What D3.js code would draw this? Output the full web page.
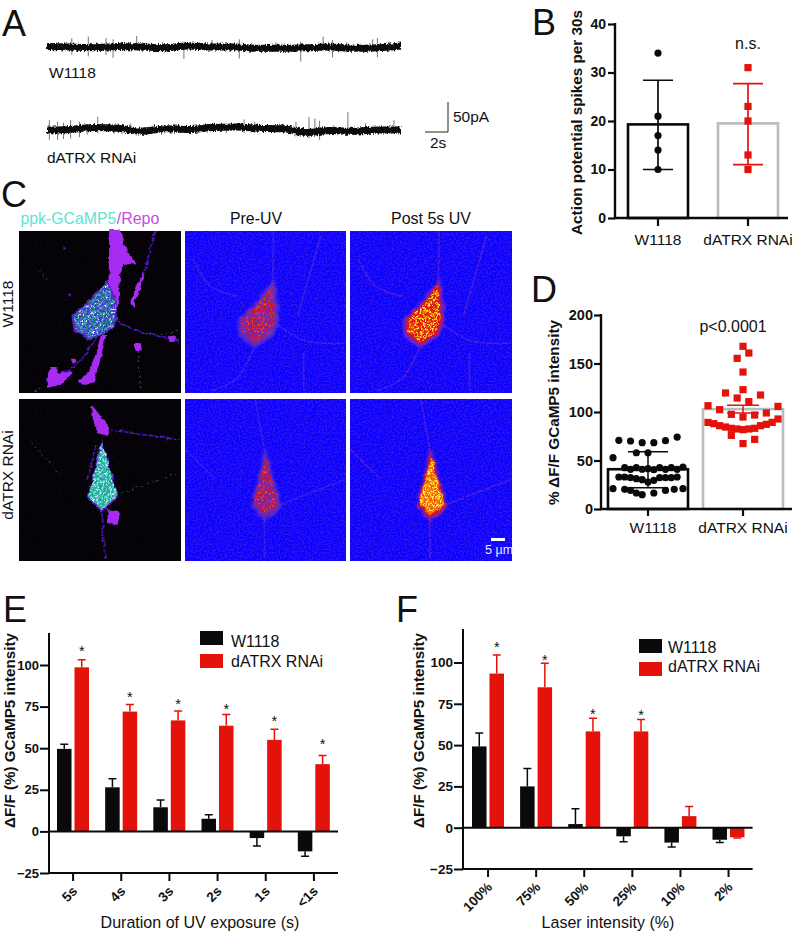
<!DOCTYPE html>
<html><head><meta charset="utf-8">
<script src="https://cdn.jsdelivr.net/npm/d3@7/dist/d3.min.js"></script>
<style>
html,body{margin:0;padding:0;background:#fff}
svg{display:block}
text{font-family:"Liberation Sans",Arial,sans-serif;fill:#111}
</style></head><body>
<svg id="fig" width="796" height="932"></svg>
<script>
// ---------- data ----------
const RED="#e3120b", BLACK="#0a0a0c", GREY="#b4bec1";
const genotypes=["W1118","dATRX RNAi"];
// A: electrophysiology traces (time s, pA)
const traceTimes=[0,2,4,6,8,10,12,14,16,18,20,22,24,26,28,30];
const traceW=[0,-1,-2,0,-1,-2,1,-1,-1,-3,-3,-2,-1,-3,-2,1];
const traceD=[0,1,4,3,-2,2,1,4,5,3,2,-4,-1,-2,0,0];
const spikeTW=[2.1,3.5,5,5.6,7.6,11.6,14,16.3,21.5,23.4,24.2,27.6,28,0.8,4.2,6.7,9.8,12.9,19.4,25.4,29];
const spikeUpW=[13.7,16.5,14,12,17.6,8,11,12,8,16.5,11,12,14,7,7,7,8,7,7,7,8];
const spikeDnW=[13.7,16.5,14,19,5,21,8,20,25,8,18,8,18,6,6,7,5,6,6,7,6];
const spikeTD=[0.2,0.9,2,2.75,4.3,7.1,16.7,17.6,21.1,22.2,22.7,23.1,25.5,27,29.4,1.4,3.4,5.7,9,12.4,15.2,19.3,24.3,28.2];
const spikeUpD=[16.5,14,16.5,14,22,11,17.6,14,14,22,19,15.4,30,11,16.5,12,10,8,7,6,8,7,8,7];
const spikeDnD=[16.5,16.5,14,12,5,5,5,5,11,14,8,16.5,5,5,5,15,8,6,5,5,5,5,7,6];
// B
const spikeDotsW=[34,21,17,14,10], spikeDotsD=[31,23,20,13,10];
const spikeMeans=[19.3,19.5], spikeLow=[10,11], spikeHigh=[28.4,27.7];
// D (value, swarm column)
const dValW=[70.8,70.1,68.4,68.4,70.4,74.2,52.9,58,58,42.6,42.6,41.6,42.6,42.6,43.3,40.9,41,40.5,40.9,40.9,33,33,32.3,31.3,30.2,29.6,32.3,32.3,32.3,33,21,20.3,19.2,16.5,14.8,16.5,19.2,20.3,21,27.8];
const dColW=[-5,-3,-1,1,3,5,-6,-2,0,-4,-2,0,2,4,6,-3,-1,1,3,5,-5,-4,-3,-2,-1,1,2,3,4,5,-6,-4,-3,-2,-1,1,3,4.5,6,0];
const dValD=[167.7,160.8,155.3,141.2,123,119.6,117.5,114.4,110.7,106.5,105.8,102.4,97.6,94.8,96.9,99,92.8,89.3,88,85.9,84.5,83.2,82.5,81.8,82.5,83.2,85.9,87.3,89.3,75.9,67.4,71.8];
const dColD=[0,1,-1,0,0,-3,3,-1,1,-6,6,-4,-2,0,2,4,6,-6,-5,-4,-3,-2,-1,0,1,2,3,4,5,-2,0,2];
const dMeans=[41,103], dLow=[22,99], dHigh=[59,107];
// E
const uvCats=["5s","4s","3s","2s","1s","<1s"];
const uvW=[49.6,26.5,14.5,7.6,-4,-12], uvWErr=[52.4,31.7,18.9,10,-8.8,-14.9];
const uvD=[98.6,72,66.7,63.5,55,40.4], uvDErr=[103.2,76.3,72.3,70.3,61.4,45.6];
const uvStars=[109.6,81.5,77.5,74.5,67.5,53.4];
// F
const laserCats=["100%","75%","50%","25%","10%","2%"];
const lasW=[49.2,25,2.2,-5.2,-9,-7.3], lasWErr=[57.3,35.9,11.5,-8.5,-11.7,-9];
const lasD=[93.3,85,58.3,58.3,7,-5.8], lasDErr=[104.6,99.6,66.3,65.5,12.9,-6.3];
const lasStars=[110,102.6,70,69.4,null,null];
const yTicksEF=[-25,0,25,50,75,100];
// C: outlines of the micrograph features, in image pixels (0-160)
const gliaTop=[[89,-2],[99,-2],[106,19],[116,32],[104,34],[100,44],[98,74],[93,84],[88,61],[89,27]];
const gliaRight=[[124,41],[119,61],[113,77],[110,72],[117,51]];
const gliaLow=[[86,104],[81,127],[74,151],[63,155],[59,151],[69,141],[76,121],[81,104]];
const gliaBlob=[[31,136],[38,136],[38,144],[51,139],[53,142],[41,154],[28,157],[27,147]];
const gliaDots=[[118,116,4],[151,107,3],[54,130,2.5],[50,64,1.5],[45,17,1.5]];
const cellW=[[86,51],[93,67],[96,87],[91,97],[71,107],[56,99],[54,84],[66,74],[81,59]];
const netW=[[[134,0],[125,36],[113,75]],[[96,90],[118,100],[158,110]],[[80,100],[60,130],[30,150]]];
const dimW=[[[20,40],[28,50]],[[118,120],[120,160]],[[130,104],[158,100]],[[30,152],[15,160]]];
const gliaD=[[72,6],[90,29],[88,37],[78,34],[73,21]];
const gliaDLow=[[87,109],[100,114],[97,127],[88,124]];
const cellD=[[82,44],[97,96],[82,111],[69,97]];
const netD=[[[92,31],[158,41]],[[77,47],[67,81]],[[82,114],[85,160]]];
const dimD=[[[102,94],[158,74]],[[10,40],[40,75]]];
const heatCellW=[[87,53],[90,75],[91,88],[86,102],[70,113],[56,102],[56,88],[70,75]];
const heatNetW=[[[88,0],[87,55]],[[8,28],[25,55],[52,65]],[[135,5],[112,85]],[[91,93],[120,110],[158,112]],[[68,118],[51,148],[25,160]],[[118,122],[118,160]]];
const heatCellD=[[80,56],[94,106],[79,118],[68,104]];
const heatNetD=[[[70,1],[80,56]],[[79,118],[79,160]],[[0,50],[30,80]],[[94,106],[160,80]]];

// ---------- helpers ----------
const svg=d3.select("#fig");
const defs=svg.append("defs");
function label(g,s,x,y,o={}){
  const t=g.append("text").attr("x",x).attr("y",y).text(s)
    .attr("font-size",o.size||15.5).attr("text-anchor",o.anchor||"start")
    .attr("font-weight",o.weight||"normal");
  if(o.fill)t.style("fill",o.fill);
  if(o.rot)t.attr("transform",`rotate(${o.rot} ${x} ${y})`);
  if(o.fit){const sz=(o.size||15.5)*o.fit/t.node().getComputedTextLength();t.attr("font-size",sz);}
  return t;
}
function speckle(id,freq,seed,thr,gain){
  const f=defs.append("filter").attr("id",id).attr("filterUnits","userSpaceOnUse")
    .attr("x",-5).attr("y",-5).attr("width",170).attr("height",170)
    .attr("color-interpolation-filters","sRGB");
  f.append("feTurbulence").attr("type","fractalNoise").attr("baseFrequency",freq).attr("numOctaves",1).attr("seed",seed).attr("result","n");
  f.append("feColorMatrix").attr("in","n").attr("type","matrix")
    .attr("values",`0 0 0 0 1 0 0 0 0 1 0 0 0 0 1 ${gain} 0 0 0 ${-thr*gain}`).attr("result","m");
  f.append("feComposite").attr("in","SourceGraphic").attr("in2","m").attr("operator","in");
}
speckle("spA",.5,3,.48,12); speckle("spB",.55,8,.55,14); speckle("spC",.6,13,.6,16);
{const f=defs.append("filter").attr("id","blueNoise").attr("filterUnits","userSpaceOnUse")
  .attr("x",0).attr("y",0).attr("width",160).attr("height",162).attr("color-interpolation-filters","sRGB");
 f.append("feTurbulence").attr("type","fractalNoise").attr("baseFrequency",.6).attr("numOctaves",2).attr("seed",5);
 f.append("feColorMatrix").attr("type","matrix").attr("values","0.4 0 0 0 -0.11  0.3 0 0 0 -0.12  -0.25 0 0 0 1.1  0 0 0 0 1");}
{const f=defs.append("filter").attr("id","blackNoise").attr("filterUnits","userSpaceOnUse")
  .attr("x",0).attr("y",0).attr("width",160).attr("height",162).attr("color-interpolation-filters","sRGB");
 f.append("feTurbulence").attr("type","fractalNoise").attr("baseFrequency",.8).attr("numOctaves",1).attr("seed",2);
 f.append("feColorMatrix").attr("type","matrix").attr("values","0.1 0 0 0 -0.03  0.08 0 0 0 -0.03  0.14 0 0 0 -0.04  0 0 0 0 1");}
defs.append("filter").attr("id","soft").attr("x","-5%").attr("y","-5%").attr("width","110%").attr("height","110%")
  .attr("color-interpolation-filters","sRGB").append("feGaussianBlur").attr("stdDeviation",.6);
defs.append("filter").attr("id","soft2").attr("filterUnits","userSpaceOnUse").attr("x",-5).attr("y",-5).attr("width",170).attr("height",170)
  .attr("color-interpolation-filters","sRGB").append("feGaussianBlur").attr("stdDeviation",1);
// wobbly outline for biological shapes
{const f=defs.append("filter").attr("id","organic").attr("filterUnits","userSpaceOnUse")
  .attr("x",-5).attr("y",-5).attr("width",170).attr("height",170).attr("color-interpolation-filters","sRGB");
 f.append("feTurbulence").attr("type","fractalNoise").attr("baseFrequency",.15).attr("numOctaves",2).attr("seed",7).attr("result","n");
 f.append("feDisplacementMap").attr("in","SourceGraphic").attr("in2","n").attr("scale",5).attr("xChannelSelector","R").attr("yChannelSelector","G");}
// rough band for traces
{const f=defs.append("filter").attr("id","rough").attr("filterUnits","userSpaceOnUse")
  .attr("x",30).attr("y",20).attr("width",390).attr("height",130).attr("color-interpolation-filters","sRGB");
 f.append("feTurbulence").attr("type","fractalNoise").attr("baseFrequency","0.7 0.3").attr("numOctaves",2).attr("seed",4).attr("result","n");
 f.append("feDisplacementMap").attr("in","SourceGraphic").attr("in2","n").attr("scale",5).attr("xChannelSelector","R").attr("yChannelSelector","G").attr("result","d");
 f.append("feGaussianBlur").attr("in","d").attr("stdDeviation",.35);}

const polyPath=d3.line().curve(d3.curveLinearClosed);
const curvePath=d3.line().curve(d3.curveCatmullRom);
function shrink(pts,k){const c=d3.polygonCentroid(pts);return pts.map(p=>[c[0]+(p[0]-c[0])*k,c[1]+(p[1]-c[1])*k]);}

// ---------- panel letters ----------
[["A",2,36],["B",532,35],["C",1,207],["D",531,302],["E",3,622],["F",396,622]].forEach(d=>label(svg,d[0],d[1],d[2],{size:36}));

// ---------- A ----------
const tx=d3.scaleLinear().domain([0,30]).range([47,401]);
const pa=d3.scaleLinear().domain([-50,50]).range([30,-30]);
function trace(yc,base,st,up,dn){
  const g=svg.append("g").attr("transform",`translate(0,${yc})`);
  g.selectAll("line.s").data(st).join("line").attr("class","s")
    .attr("x1",d=>tx(d)).attr("x2",d=>tx(d))
    .attr("y1",(d,i)=>pa(up[i])).attr("y2",(d,i)=>pa(-dn[i]))
    .attr("stroke","#666").attr("stroke-width",.9);
  svg.append("g").attr("filter","url(#rough)")
    .append("path").attr("transform",`translate(0,${yc})`)
    .attr("d",d3.line().x((d,i)=>tx(traceTimes[i])).y(d=>pa(d)).curve(d3.curveMonotoneX)(base))
    .attr("fill","none").attr("stroke","#0b0b0b").attr("stroke-width",7);
}
trace(46.5,traceW,spikeTW,spikeUpW,spikeDnW);
trace(130,traceD,spikeTD,spikeUpD,spikeDnD);
label(svg,"W1118",49,78);
label(svg,"dATRX RNAi",47,163);
svg.append("path").attr("d","M425,132H448V102").attr("fill","none").attr("stroke","#222").attr("stroke-width",1);
label(svg,"50pA",453,122);
label(svg,"2s",430,148);

// ---------- common axis ----------
function styleAxis(g,w){
  g.selectAll("path.domain").remove();
  g.selectAll("line").attr("stroke","#0a0a0a").attr("stroke-width",w);
}
// ---------- B ----------
{
  const g=svg.append("g");
  const x=d3.scaleBand().domain(genotypes).range([613,793]).paddingInner(1/3).paddingOuter(1/6);
  const y=d3.scaleLinear().domain([0,40]).range([218,24]);
  const cols=[BLACK,GREY], markCols=[BLACK,RED];
  g.selectAll("rect").data(genotypes).join("rect")
    .attr("x",d=>x(d)).attr("width",x.bandwidth())
    .attr("y",(d,i)=>y(spikeMeans[i])).attr("height",(d,i)=>y(0)-y(spikeMeans[i]))
    .attr("fill","none").attr("stroke",(d,i)=>cols[i]).attr("stroke-width",2.6);
  genotypes.forEach((c,i)=>{
    const cx=x(c)+x.bandwidth()/2;
    g.append("path").attr("d",`M${cx-15},${y(spikeHigh[i])}H${cx+15}M${cx},${y(spikeHigh[i])}V${y(spikeLow[i])}M${cx-15},${y(spikeLow[i])}H${cx+15}`)
      .attr("fill","none").attr("stroke",markCols[i]).attr("stroke-width",1.7);
  });
  g.selectAll("circle").data(spikeDotsW).join("circle").attr("cx",x(genotypes[0])+x.bandwidth()/2).attr("cy",d=>y(d)).attr("r",3.6).attr("fill",BLACK);
  g.selectAll("rect.m").data(spikeDotsD).join("rect").attr("class","m")
    .attr("x",x(genotypes[1])+x.bandwidth()/2-3.6).attr("width",7.2).attr("height",7.2).attr("y",d=>y(d)-3.6).attr("fill",RED);
  const ay=g.append("g").attr("transform","translate(615,0)").call(d3.axisLeft(y).tickValues([0,10,20,30,40]).tickSize(7).tickPadding(2));
  styleAxis(ay,2.2); ay.selectAll("text").attr("font-size",14).attr("font-weight","bold");
  const ax=g.append("g").attr("transform","translate(0,218)").call(d3.axisBottom(x).tickSize(8).tickPadding(8));
  styleAxis(ax,2.2); ax.selectAll("text").attr("font-size",15.5);
  g.append("path").attr("d","M615,23V218H788").attr("fill","none").attr("stroke","#0a0a0a").attr("stroke-width",2.4);
  label(g,"Action potential spikes per 30s",582,122.5,{size:15,anchor:"middle",rot:-90,weight:"bold",fit:225});
  label(g,"n.s.",748,49,{size:16,anchor:"middle"});
}
// ---------- D ----------
{
  const g=svg.append("g");
  const x=d3.scaleBand().domain(genotypes).range([600.5,790.5]).paddingInner(.158).paddingOuter(.079);
  const y=d3.scaleLinear().domain([0,200]).range([509,315]);
  const cols=[BLACK,GREY], markCols=[BLACK,RED], capW=[20,16];
  g.selectAll("rect.b").data(genotypes).join("rect").attr("class","b")
    .attr("x",d=>x(d)).attr("width",x.bandwidth())
    .attr("y",(d,i)=>y(dMeans[i])).attr("height",(d,i)=>y(0)-y(dMeans[i]))
    .attr("fill","none").attr("stroke",(d,i)=>cols[i]).attr("stroke-width",2.6);
  const c0=x(genotypes[0])+x.bandwidth()/2, c1=x(genotypes[1])+x.bandwidth()/2;
  const colStep=5.83;
  g.selectAll("circle").data(dValW).join("circle").attr("cx",(d,i)=>c0+dColW[i]*colStep).attr("cy",d=>y(d)).attr("r",3.6).attr("fill",BLACK);
  g.selectAll("rect.m").data(dValD).join("rect").attr("class","m")
    .attr("x",(d,i)=>c1+dColD[i]*colStep-3.6).attr("y",d=>y(d)-3.6).attr("width",7.2).attr("height",7.2).attr("fill",RED);
  genotypes.forEach((c,i)=>{
    const cx=x(c)+x.bandwidth()/2;
    g.append("path").attr("d",`M${cx-capW[i]},${y(dHigh[i])}H${cx+capW[i]}M${cx},${y(dHigh[i])}V${y(dLow[i])}M${cx-capW[i]},${y(dLow[i])}H${cx+capW[i]}`)
      .attr("fill","none").attr("stroke",markCols[i]).attr("stroke-width",1.5);
  });
  const ay=g.append("g").attr("transform","translate(601,0)").call(d3.axisLeft(y).tickValues([0,50,100,150,200]).tickSize(7).tickPadding(1));
  styleAxis(ay,2.2); ay.selectAll("text").attr("font-size",14.5).attr("font-weight","bold");
  const ax=g.append("g").attr("transform","translate(0,509)").call(d3.axisBottom(x).tickSize(7).tickPadding(6));
  styleAxis(ax,2.2); ax.selectAll("text").attr("font-size",15.5).filter(d=>d==="W1118").attr("x",5);
  g.append("path").attr("d","M601,314V509H792").attr("fill","none").attr("stroke","#0a0a0a").attr("stroke-width",2.4);
  label(g,"% ΔF/F GCaMP5 intensity",559,412.5,{size:15,anchor:"middle",rot:-90,weight:"bold",fit:185});
  label(g,"p<0.0001",733,332,{size:16,anchor:"middle"});
}
// ---------- E, F ----------
function grouped(o){
  const g=svg.append("g");
  const x=d3.scaleBand().domain(o.cats).range(o.xr);
  const inner=d3.scaleBand().domain([0,1]).range([8,40]).paddingInner(.17);
  const y=d3.scaleLinear().domain([-25,100]).range(o.yr);
  [[o.w,o.wErr,BLACK,0],[o.d,o.dErr,RED,1]].forEach(([vals,errs,col,k])=>{
    const s=g.append("g");
    s.selectAll("rect").data(vals).join("rect")
      .attr("x",(d,i)=>x(o.cats[i])+inner(k)).attr("width",inner.bandwidth())
      .attr("y",d=>y(Math.max(0,d))).attr("height",d=>Math.abs(y(d)-y(0))).attr("fill",col);
    s.selectAll("path").data(errs).join("path")
      .attr("d",(d,i)=>{const cx=x(o.cats[i])+inner(k)+inner.bandwidth()/2;return `M${cx},${y(vals[i])}V${y(d)}M${cx-4},${y(d)}H${cx+4}`;})
      .attr("fill","none").attr("stroke",col).attr("stroke-width",1.5);
  });
  g.selectAll("text.star").data(o.stars).join("text").attr("class","star")
    .filter(d=>d!==null)
    .attr("x",(d,i)=>x(o.cats[i])+inner(1)+inner.bandwidth()/2).attr("y",d=>y(d)+6.5)
    .attr("text-anchor","middle").attr("font-size",14.5).text("*");
  const ay=g.append("g").attr("transform",`translate(${o.xr[0]-(o.axisGap||0)},0)`).call(d3.axisLeft(y).tickValues(yTicksEF).tickSize(9).tickPadding(1));
  styleAxis(ay,2); ay.selectAll("text").attr("font-size",o.tickSize).attr("font-weight","bold");
  const ax=g.append("g").attr("transform",`translate(0,${y(-25)})`).call(d3.axisBottom(x).tickSize(8));
  styleAxis(ax,2);
  ax.selectAll("text").attr("font-size",13.5).attr("font-weight","bold").attr("text-anchor","end")
    .attr("dy",0).attr("y",0).attr("transform","translate(5,19) rotate(-45)");
  const x0=o.xr[0]-(o.axisGap||0);
  g.append("path").attr("d",`M${x0},${o.top}V${y(-25)}H${o.xr[1]}M${x0},${y(0)}H${o.xr[1]}`)
    .attr("fill","none").attr("stroke","#0a0a0a").attr("stroke-width",2);
  label(g,"ΔF/F (%) GCaMP5 intensity",o.titleX,730.5,{size:15,anchor:"middle",rot:-90,weight:"bold",fit:195});
  label(g,o.xTitle,o.xTitleX,928,{size:15.6,anchor:"middle",fit:o.xTitleLen});
  const lg=o.legend;
  g.append("rect").attr("x",lg.x).attr("y",lg.y1).attr("width",23).attr("height",14).attr("fill",BLACK);
  g.append("rect").attr("x",lg.x).attr("y",lg.y2).attr("width",23).attr("height",14).attr("fill",RED);
  label(g,genotypes[0],lg.tx,lg.t1,{size:16});
  label(g,genotypes[1],lg.tx,lg.t2,{size:16});
}
grouped({cats:uvCats,w:uvW,wErr:uvWErr,d:uvD,dErr:uvDErr,stars:uvStars,xr:[49,338],yr:[873,665],top:633,tickSize:13,
  titleX:15,xTitle:"Duration of UV exposure (s)",xTitleX:200,xTitleLen:199,
  legend:{x:200,y1:631,y2:654,tx:231,t1:647,t2:667}});
grouped({cats:laserCats,w:lasW,wErr:lasWErr,d:lasD,dErr:lasDErr,stars:lasStars,xr:[464,752.6],yr:[869,662.5],top:629,axisGap:1,tickSize:13.5,
  titleX:424,xTitle:"Laser intensity (%)",xTitleX:608,xTitleLen:133,
  legend:{x:639,y1:639,y2:662,tx:668,t1:653,t2:672}});

// ---------- C ----------
const sp=(g,pts,fill,flt)=>g.append("path").attr("d",polyPath(pts)).attr("fill",fill).attr("filter",flt?`url(#${flt})`:null);
function panel(x0,y0,w,h,blue){
  const g=svg.append("g").attr("transform",`translate(${x0},${y0}) scale(${w/160},1)`);
  const inner=g.append("g").attr("filter","url(#soft)");
  inner.append("rect").attr("width",160).attr("height",h).attr("fill","#000").attr("filter",blue?"url(#blueNoise)":"url(#blackNoise)");
  return inner;
}
function fluor(x0,y0,w,h,glia,dots,cell,net,dim,base,teal,white,green,fringe){
  const g=panel(x0,y0,w,h,false);
  const gl=g.append("g").attr("filter","url(#organic)");
  net.forEach(l=>gl.append("path").attr("d",curvePath(l)).attr("fill","none").attr("stroke","#4a18b8").attr("stroke-width",1.6).attr("stroke-dasharray","5 1"));
  dim.forEach(l=>gl.append("path").attr("d",curvePath(l)).attr("fill","none").attr("stroke","#2f6f60").attr("stroke-width",.8).attr("stroke-dasharray","2 3"));
  glia.forEach(p=>sp(gl,p,"#a62cf2"));
  dots.forEach(d=>gl.append("circle").attr("cx",d[0]).attr("cy",d[1]).attr("r",d[2]).attr("fill",d[2]>2?"#a62cf2":"#4a18b8"));
  const c=g.append("g").attr("filter","url(#organic)");
  sp(c,shrink(cell,1.1),fringe);
  sp(c,cell,base);
  sp(c,cell,teal,"spA"); sp(c,cell,white,"spC"); sp(c,cell,green,"spB");
}
// cols: halo, rim, body, speckle 1, speckle 2; bodyFilter speckles the body colour
function heat(x0,y0,w,h,cell,net,cols,lineCol,f){
  const g=panel(x0,y0,w,h,true);
  net.forEach(l=>g.append("path").attr("d",curvePath(l)).attr("fill","none").attr("stroke",lineCol).attr("stroke-width",1.6).attr("opacity",.6).attr("stroke-dasharray","6 1"));
  const c=g.append("g").attr("filter","url(#organic)");
  sp(c,shrink(cell,1.2),cols[0],"soft2");
  sp(c,shrink(cell,1.06),cols[1]);
  sp(c,shrink(cell,.98),cols[2],f[0]);
  sp(c,shrink(cell,.94),cols[3],f[1]);
  sp(c,shrink(cell,.9),cols[4],f[2]);
}
const xs=[19,185,350], ws=[162,161,162], ys=[231,399], hs=[161,162];
const preF=["spA","spB","spC"], postF=[null,"spA","spB"];
fluor(xs[0],ys[0],ws[0],hs[0],[gliaTop,gliaRight,gliaLow,gliaBlob],gliaDots,cellW,netW,dimW,"#4538c8","#4a9ed0","#cfe8ff","#1f8a70","#5a22c8");
heat(xs[1],ys[0],ws[1],hs[0],heatCellW,heatNetW,["#4a28e0","#6c2cb0","#b01a70","#dc1428","#f05018"],"#5a30e0",preF);
heat(xs[2],ys[0],ws[2],hs[0],heatCellW,heatNetW,["#6a24d0","#a81a70","#dc1418","#ff7a00","#ffe030"],"#6f2cd0",postF);
fluor(xs[0],ys[1],ws[0],hs[1],[gliaD,gliaDLow],[],cellD,netD,dimD,"#2e9aa8","#78ecd0","#e8fff8","#2ec0a0","#5a22c8");
heat(xs[1],ys[1],ws[1],hs[1],heatCellD,heatNetD,["#4a28e0","#7028a8","#b01a70","#dc1428","#f05018"],"#4a30e0",preF);
heat(xs[2],ys[1],ws[2],hs[1],heatCellD,heatNetD,["#8020b0","#c81838","#f05a08","#ffb000","#fff060"],"#6f2cd0",postF);
// row / column labels
label(svg,"ppk-GCaMP5",20.5,224,{size:15.5,fill:"#5fe3d2",fit:96});
label(svg,"/Repo",116.7,224,{size:15.5,fill:"#c04fe0",fit:42.7});
label(svg,"Pre-UV",256,224,{size:15.5,anchor:"middle",fit:52});
label(svg,"Post 5s UV",431,224,{size:15.5,anchor:"middle",fit:80});
label(svg,"W1118",13,304,{size:15.5,anchor:"middle",rot:-90});
label(svg,"dATRX RNAi",13,475,{size:15.5,anchor:"middle",rot:-90});
svg.append("rect").attr("x",491).attr("y",538).attr("width",14).attr("height",3).attr("fill","#fff");
label(svg,"5 µm",485,554,{size:12.5,fill:"#e8e8ff"});
</script></body></html>
